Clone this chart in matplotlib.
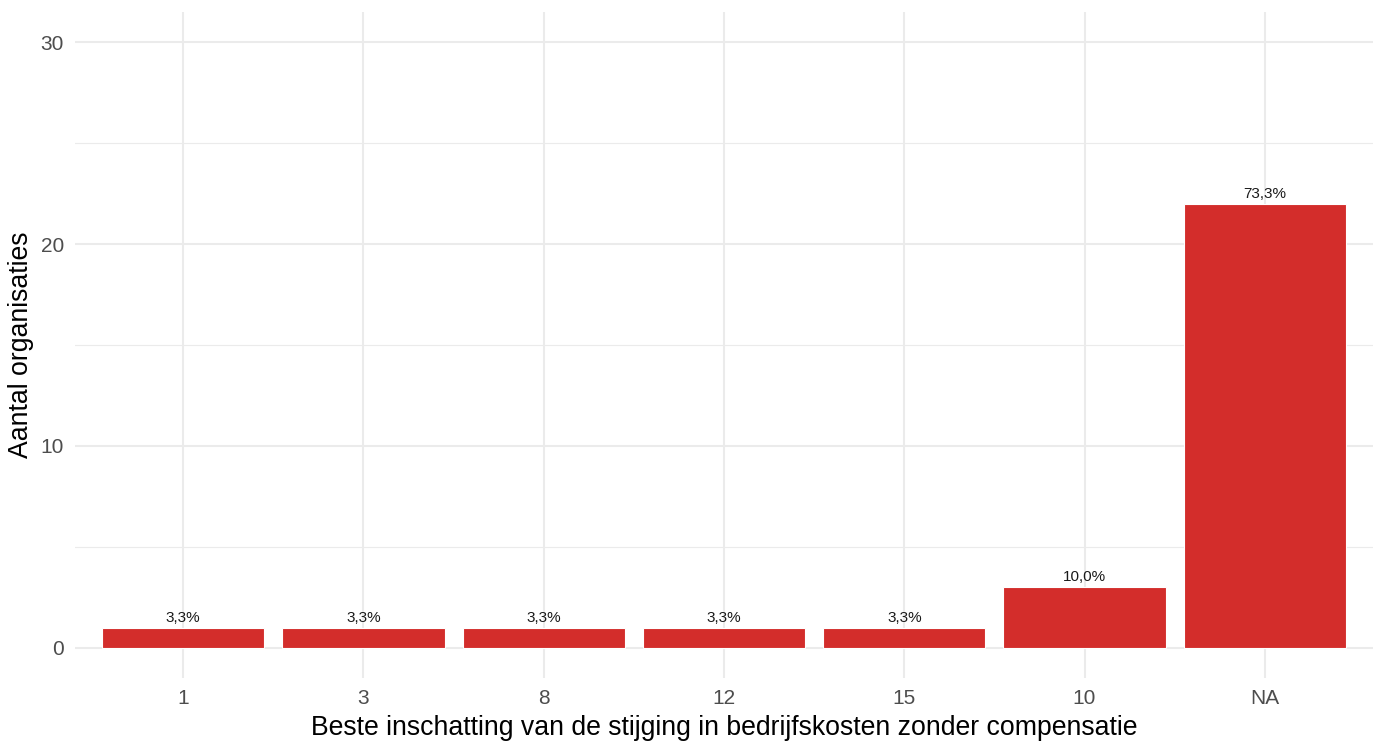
import matplotlib
matplotlib.use('Agg')
import matplotlib.pyplot as plt
from matplotlib.ticker import MultipleLocator

categories = ['1', '3', '8', '12', '15', '10', 'NA']
counts = [1, 1, 1, 1, 1, 3, 22]
labels = ['3,3%', '3,3%', '3,3%', '3,3%', '3,3%', '10,0%', '73,3%']

plt.rcParams['font.family'] = ['Liberation Sans', 'DejaVu Sans']

fig = plt.figure(figsize=(13.8, 7.45), dpi=100)
ax = fig.add_axes([75 / 1380, 1 - 678 / 745, 1298 / 1380, 666 / 745])

x = list(range(1, len(categories) + 1))
ax.bar(x, counts, width=0.9, color='#D32D2B', edgecolor='white', linewidth=0.8, zorder=3)
for xi, c, lab in zip(x, counts, labels):
    ax.annotate(lab, (xi, c), xytext=(0, 2), textcoords='offset points',
                ha='center', va='bottom', fontsize=11, color='#1a1a1a', zorder=4)

ax.set_xlim(0.4, 7.6)
ax.set_ylim(-1.5, 31.5)
ax.set_xticks(x)
ax.set_xticklabels(categories)
ax.yaxis.set_major_locator(MultipleLocator(10))
ax.yaxis.set_minor_locator(MultipleLocator(5))
ax.set_yticks([0, 10, 20, 30])

ax.grid(which='major', color='#EBEBEB', linewidth=1.5, zorder=0)
ax.grid(which='minor', axis='y', color='#EBEBEB', linewidth=0.8, zorder=0)
for s in ax.spines.values():
    s.set_visible(False)
ax.tick_params(which='both', length=0, labelsize=15, labelcolor='#4D4D4D', pad=8)

ax.set_xlabel('Beste inschatting van de stijging in bedrijfskosten zonder compensatie',
              fontsize=19.2, color='black', labelpad=5)
ax.set_ylabel('Aantal organisaties', fontsize=19.2, color='black', labelpad=5)

fig.savefig('out.png', dpi=100, facecolor='white')
